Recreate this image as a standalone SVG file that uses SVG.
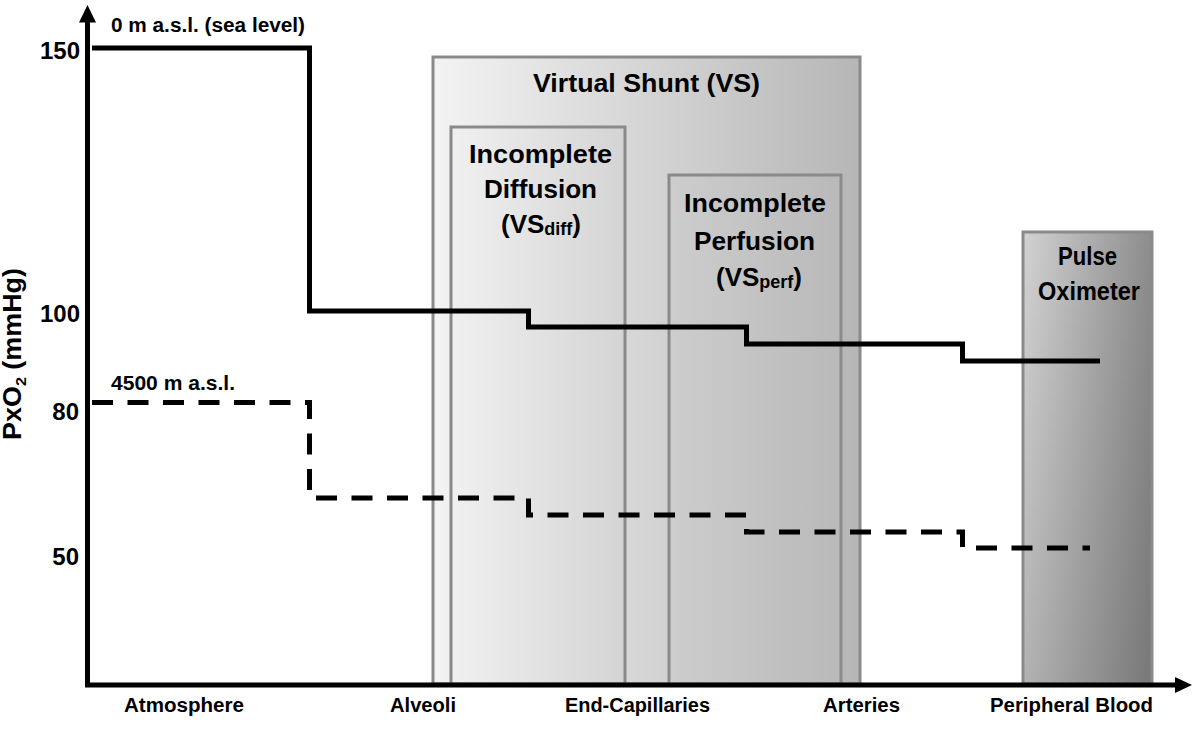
<svg xmlns="http://www.w3.org/2000/svg" width="1200" height="729" viewBox="0 0 1200 729">
<style>
text{font-family:"Liberation Sans",Arial,sans-serif;font-weight:bold;fill:#000}
.box{stroke:#8a8a8a;stroke-width:3}
.lbl{font-size:26px;text-anchor:middle}
.tick{font-size:24px;text-anchor:end}
.cat{font-size:19.5px;text-anchor:middle}
.alt{font-size:20px}
.curve{fill:none;stroke:#000;stroke-width:5;stroke-linejoin:miter;stroke-linecap:butt}
</style>
<defs>
<linearGradient id="gVS" x1="0" y1="0" x2="1" y2="0"><stop offset="0" stop-color="#f3f3f3"/><stop offset="1" stop-color="#b6b6b6"/></linearGradient>
<linearGradient id="gDiff" x1="0" y1="0" x2="1" y2="0"><stop offset="0" stop-color="#f0f0f0"/><stop offset="1" stop-color="#d4d4d4"/></linearGradient>
<linearGradient id="gPerf" x1="0" y1="0" x2="1" y2="0"><stop offset="0" stop-color="#cdcdcd"/><stop offset="1" stop-color="#b9b9b9"/></linearGradient>
<linearGradient id="gPO" x1="0" y1="0" x2="1" y2="0"><stop offset="0" stop-color="#d2d2d2"/><stop offset="1" stop-color="#8c8c8c"/></linearGradient>
<linearGradient id="gPOv" x1="0" y1="0" x2="0" y2="1"><stop offset="0" stop-color="#000" stop-opacity="0"/><stop offset="1" stop-color="#000" stop-opacity="0.15"/></linearGradient>
</defs>
<rect width="1200" height="729" fill="#fff"/>

<g id="vs">
<rect class="box" x="433" y="57" width="427" height="627" fill="url(#gVS)"/>
<text class="lbl" x="646.5" y="92" textLength="227" lengthAdjust="spacingAndGlyphs">Virtual Shunt (VS)</text>
</g>
<g id="vs-diff">
<rect class="box" x="451" y="127" width="174" height="557" fill="url(#gDiff)"/>
<text class="lbl" x="540.5" y="163" textLength="143" lengthAdjust="spacingAndGlyphs">Incomplete</text>
<text class="lbl" x="540.5" y="198" textLength="113" lengthAdjust="spacingAndGlyphs">Diffusion</text>
<text class="lbl" x="541" y="233">(VS<tspan font-size="18" dy="2">diff</tspan><tspan dy="-2">)</tspan></text>
</g>
<g id="vs-perf">
<rect class="box" x="669" y="175" width="172" height="509" fill="url(#gPerf)"/>
<text class="lbl" x="755" y="212" textLength="142" lengthAdjust="spacingAndGlyphs">Incomplete</text>
<text class="lbl" x="754.5" y="250" textLength="121" lengthAdjust="spacingAndGlyphs">Perfusion</text>
<text class="lbl" x="759" y="286">(VS<tspan font-size="18" dy="2">perf</tspan><tspan dy="-2">)</tspan></text>
</g>
<g id="pulse-oximeter">
<rect class="box" x="1023" y="232" width="129" height="452" fill="url(#gPO)"/>
<rect x="1024.5" y="233.5" width="126" height="449" fill="url(#gPOv)"/>
<text class="lbl" x="1087.5" y="265" font-size="24" textLength="59" lengthAdjust="spacingAndGlyphs">Pulse</text>
<text class="lbl" x="1089" y="300" font-size="24" textLength="102" lengthAdjust="spacingAndGlyphs">Oximeter</text>
</g>

<g id="curves">
<path id="sea-level" class="curve" d="M92,48 H309.5 V311 H528.5 V327 H746.5 V344 H962.5 V361 H1100"/>
<path id="altitude" class="curve" d="M92,402.5 H309.5 V498 H528.5 V515 H746.5 V532 H962.5 V548 H1090" stroke-dasharray="21 14.5"/>
</g>

<g id="axes">
<line x1="87.5" y1="687" x2="87.5" y2="20" stroke="#000" stroke-width="5"/>
<polygon points="87.5,5 79,22.5 96,22.5" fill="#000"/>
<line x1="85" y1="685" x2="1178" y2="685" stroke="#000" stroke-width="5"/>
<polygon points="1192,685 1175,677 1175,693" fill="#000"/>
</g>

<g id="y-ticks">
<text class="tick" x="80" y="59">150</text>
<text class="tick" x="80" y="322">100</text>
<text class="tick" x="79" y="420">80</text>
<text class="tick" x="79" y="565">50</text>
</g>
<text id="y-label" transform="translate(21,354) rotate(-90)" font-size="25" text-anchor="middle" textLength="172" lengthAdjust="spacingAndGlyphs">PxO<tspan font-size="15" dy="5">2</tspan><tspan dy="-5"> (mmHg)</tspan></text>

<g id="altitude-labels">
<text class="alt" x="111" y="32" textLength="194" lengthAdjust="spacingAndGlyphs">0 m a.s.l. (sea level)</text>
<text class="alt" x="111" y="390" textLength="124" lengthAdjust="spacingAndGlyphs">4500 m a.s.l.</text>
</g>

<g id="x-categories">
<text class="cat" x="184" y="712" textLength="120" lengthAdjust="spacingAndGlyphs">Atmosphere</text>
<text class="cat" x="423" y="712" textLength="66" lengthAdjust="spacingAndGlyphs">Alveoli</text>
<text class="cat" x="637.5" y="712" textLength="145" lengthAdjust="spacingAndGlyphs">End-Capillaries</text>
<text class="cat" x="861.5" y="712" textLength="77" lengthAdjust="spacingAndGlyphs">Arteries</text>
<text class="cat" x="1071.5" y="712" textLength="163" lengthAdjust="spacingAndGlyphs">Peripheral Blood</text>
</g>
</svg>
